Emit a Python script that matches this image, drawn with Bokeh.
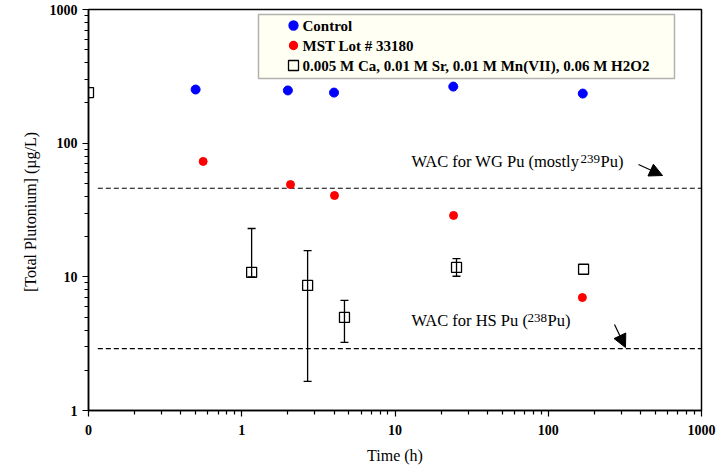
from bokeh.plotting import figure
from bokeh.models import (Range1d, FixedTicker, CustomJSTickFormatter, Label,
                          Arrow, NormalHead, BoxAnnotation)
from bokeh.embed import file_html
from bokeh.resources import INLINE

# ---- data: total plutonium (ug/L) versus contact time (h) ----
control_t = [0.5, 2.0, 4.0, 24.0, 168.0]
control_pu = [252, 248, 239, 265, 235]

mst_t = [0.56, 2.08, 4.03, 24.1, 167.0]
mst_pu = [73, 49, 40.6, 28.8, 7.0]

# permanganate strike; t = 0 sits on the axis origin (0.1 h on the log scale)
perm_t = [0.1, 1.16, 2.69, 4.68, 25.2, 170.0]
perm_pu = [239, 10.8, 8.63, 4.97, 11.75, 11.4]
perm_hi = [None, 23.0, 15.7, 6.66, 13.7, None]
perm_lo = [None, 10.0, 1.65, 3.23, 10.1, None]

# waste acceptance criteria
wg_limit = 46.0
hs_limit = 2.9
limit_span = [0.115, 1000]

x_ticks = [0.1, 1, 10, 100, 1000]
y_ticks = [1, 10, 100, 1000]

FONT = "Liberation Serif"
W, H = 719, 471
LEFT, RIGHT, TOP, BOTTOM = 88, 701, 9, 410

p = figure(width=W, height=H, x_axis_type="log", y_axis_type="log",
           x_range=Range1d(0.1, 1000), y_range=Range1d(1, 1000),
           output_backend="svg", toolbar_location=None,
           min_border_left=LEFT, min_border_right=W - RIGHT,
           min_border_top=TOP, min_border_bottom=H - BOTTOM)
p.background_fill_color = "white"
p.border_fill_color = "white"
p.outline_line_color = "black"
p.outline_line_width = 1.5
p.xgrid.visible = False
p.ygrid.visible = False


def at(sx, sy):
    """Convert a canvas pixel position into data coordinates."""
    xd = (RIGHT - LEFT) / 4.0
    yd = (BOTTOM - TOP) / 3.0
    return 10 ** (-1 + (sx - LEFT) / xd), 10 ** ((BOTTOM - sy) / yd)


# axes
p.xaxis.ticker = FixedTicker(ticks=x_ticks,
                             minor_ticks=[m * 10 ** e for e in range(-1, 3) for m in range(2, 10)])
p.yaxis.ticker = FixedTicker(ticks=y_ticks,
                             minor_ticks=[m * 10 ** e for e in range(0, 3) for m in range(2, 10)])
p.xaxis.formatter = CustomJSTickFormatter(code="return tick < 0.5 ? '0' : tick.toFixed(0);")
p.yaxis.formatter = CustomJSTickFormatter(code="return tick.toFixed(0);")
for ax in (p.xaxis[0], p.yaxis[0]):
    ax.axis_line_color = "black"
    ax.axis_line_width = 1.5
    ax.major_tick_line_color = "black"
    ax.minor_tick_line_color = "black"
    ax.major_tick_line_width = 1.2
    ax.minor_tick_line_width = 1.2
    ax.major_tick_in = 0
    ax.major_tick_out = 6
    ax.minor_tick_in = 0
    ax.minor_tick_out = 4
    ax.major_label_text_font = FONT
    ax.major_label_text_font_size = "14px"
    ax.major_label_text_font_style = "bold"
    ax.major_label_text_color = "black"
    ax.axis_label_text_font = FONT
    ax.axis_label_text_font_size = "16px"
    ax.axis_label_text_font_style = "normal"
    ax.axis_label_text_color = "black"
p.xaxis.axis_label = "Time (h)"
p.yaxis.axis_label = "[Total Plutonium]  (\u00b5g/L)"
p.xaxis.major_label_standoff = 8
p.yaxis.major_label_standoff = 5
p.xaxis.axis_label_standoff = 9
p.yaxis.axis_label_standoff = 8

# WAC limit lines
p.line(limit_span, [wg_limit, wg_limit], line_color="black", line_width=1.2, line_dash="5 3")
p.line(limit_span, [hs_limit, hs_limit], line_color="black", line_width=1.2, line_dash="5 3")

# error bars on the permanganate series
seg_x, seg_lo, seg_hi = [], [], []
for t, lo, hi in zip(perm_t, perm_lo, perm_hi):
    if hi is not None:
        seg_x.append(t)
        seg_lo.append(lo)
        seg_hi.append(hi)
p.segment(seg_x, seg_lo, seg_x, seg_hi, line_color="black", line_width=1.3)
p.scatter(seg_x + seg_x, seg_hi + seg_lo, marker="dash", size=8,
          line_color="black", line_width=1.3)

# data series
p.scatter(control_t, control_pu, marker="circle", size=9,
          fill_color="blue", line_color="blue")
p.scatter(mst_t, mst_pu, marker="circle", size=8,
          fill_color="red", line_color="red")
p.scatter(perm_t, perm_pu, marker="square", size=10, fill_alpha=0,
          line_color="black", line_width=1.3)


def text_at(sx, sy, text, size, style="normal"):
    x, y = at(sx, sy)
    p.add_layout(Label(x=x, y=y, text=text, text_font=FONT, text_font_size=size,
                       text_font_style=style, text_baseline="alphabetic",
                       text_color="black"))


# limit annotations (isotope mass numbers raised as superscripts)
text_at(411, 161, "WAC for WG Pu (mostly", "16.5px")
text_at(580, 158, "239", "13px")
text_at(600, 161, "Pu)", "16.5px")
text_at(411, 320, "WAC for HS Pu (", "16.5px")
text_at(527, 317, "238", "13px")
text_at(547, 320, "Pu)", "16.5px")

x0, y0 = at(638, 164)
x1, y1 = at(662, 175)
p.add_layout(Arrow(end=NormalHead(size=13, fill_color="black", line_color="black"),
                   x_start=x0, y_start=y0, x_end=x1, y_end=y1,
                   line_color="black", line_width=1.2))
x0, y0 = at(614, 324)
x1, y1 = at(625, 347)
p.add_layout(Arrow(end=NormalHead(size=13, fill_color="black", line_color="black"),
                   x_start=x0, y_start=y0, x_end=x1, y_end=y1,
                   line_color="black", line_width=1.2))

# legend box
bl, bt = at(258, 14)
br, bb = at(674, 78)
p.add_layout(BoxAnnotation(left=bl, right=br, top=bt, bottom=bb, level="underlay",
                           fill_color="#FFFFF4", fill_alpha=1.0,
                           line_color="black", line_width=1.5))
rows = [("Control", "circle", "blue", "blue", 1.0, 9),
        ("MST Lot # 33180", "circle", "red", "red", 1.0, 8),
        ("0.005 M Ca, 0.01 M Sr, 0.01 M Mn(VII), 0.06 M H2O2", "square", "white", "black", 0.0, 10)]
for i, (label, marker, fc, lc, fa, sz) in enumerate(rows):
    sy = 25 + 20 * i
    mx, my = at(293, sy)
    p.scatter([mx], [my], marker=marker, size=sz, fill_color=fc, fill_alpha=fa,
              line_color=lc, line_width=1.3)
    lx, ly = at(302, sy)
    p.add_layout(Label(x=lx, y=ly, text=label, text_font=FONT, text_font_size="15px",
                       text_font_style="bold", text_baseline="middle", text_color="black"))

open("out.html", "w").write(file_html(p, INLINE))
